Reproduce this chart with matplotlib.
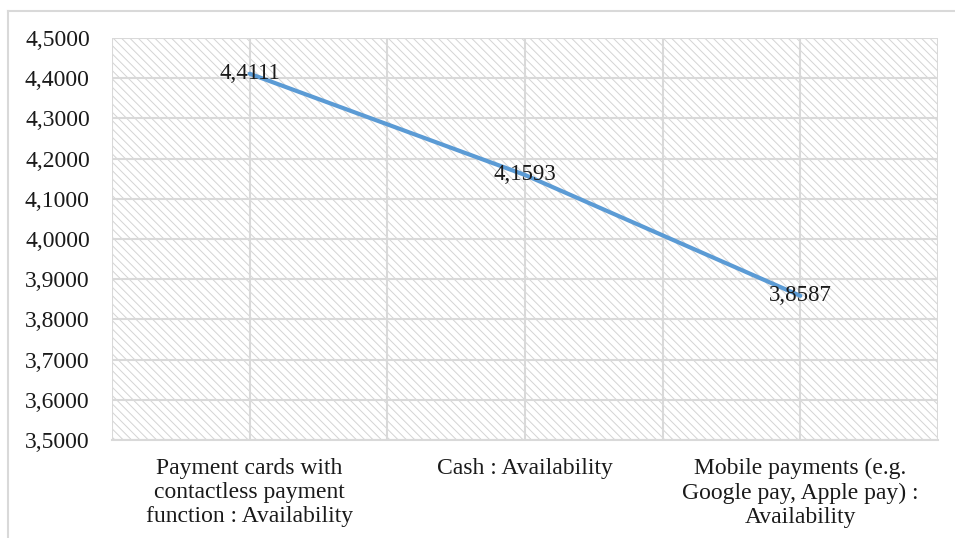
import matplotlib.pyplot as plt
from matplotlib.patches import Rectangle
from matplotlib.lines import Line2D

categories = ['Payment cards with\ncontactless payment\nfunction : Availability',
              'Cash : Availability',
              'Mobile payments (e.g.\nGoogle pay, Apple pay) :\nAvailability']
values = [4.4111, 4.1593, 3.8587]
yticks = [3.5, 3.6, 3.7, 3.8, 3.9, 4.0, 4.1, 4.2, 4.3, 4.4, 4.5]

plt.rcParams['font.family'] = ['Liberation Serif', 'DejaVu Serif']
plt.rcParams['hatch.linewidth'] = 0.7

grid = '#d9d9d9'
fig = plt.figure(figsize=(9.55, 5.38), dpi=100)
ax = fig.add_axes([112/955, 1-440/538, 826/955, 402/538])

# chart frame (left and top edges visible)
fig.add_artist(Line2D([8/955, 8/955], [0, 1-11/538], transform=fig.transFigure, color=grid, lw=1.5))
fig.add_artist(Line2D([8/955, 1], [1-11/538, 1-11/538], transform=fig.transFigure, color=grid, lw=1.5))

# hatched plot area
ax.add_patch(Rectangle((0, 0), 1, 1, transform=ax.transAxes, facecolor='white',
                       edgecolor='#d4d4d4', hatch='\\' * 4, lw=0, zorder=0))

x = list(range(len(values)))
ax.set_xlim(-0.5, len(values) - 0.5)
ax.set_ylim(3.5, 4.5)
ax.set_yticks(yticks)
ax.set_yticklabels([f'{v:.4f}'.replace('.', ',') for v in yticks])
ax.set_xticks(x)
ax.set_xticklabels(categories, linespacing=1.2)
ax.set_xticks([-0.5, 0.5, 1.5, 2.5], minor=True)

ax.grid(True, which='both', color=grid, lw=1.5, zorder=1)
ax.set_axisbelow(True)
for s in ax.spines.values():
    s.set_visible(False)
ax.spines['bottom'].set_visible(True)
ax.spines['bottom'].set_color(grid)
ax.spines['bottom'].set_linewidth(1.5)
ax.tick_params(which='both', length=0, colors='#1a1a1a')
ax.tick_params(axis='y', pad=16, labelsize=17)
ax.tick_params(axis='x', pad=13, labelsize=17)

ax.plot(x, values, color='#5b9bd5', lw=3, zorder=3, solid_capstyle='round')
for xi, v in zip(x, values):
    ax.text(xi, v, f'{v:.4f}'.replace('.', ','), ha='center', va='center',
            fontsize=16.5, color='#1a1a1a', zorder=4)

fig.savefig('out.png', dpi=100)
